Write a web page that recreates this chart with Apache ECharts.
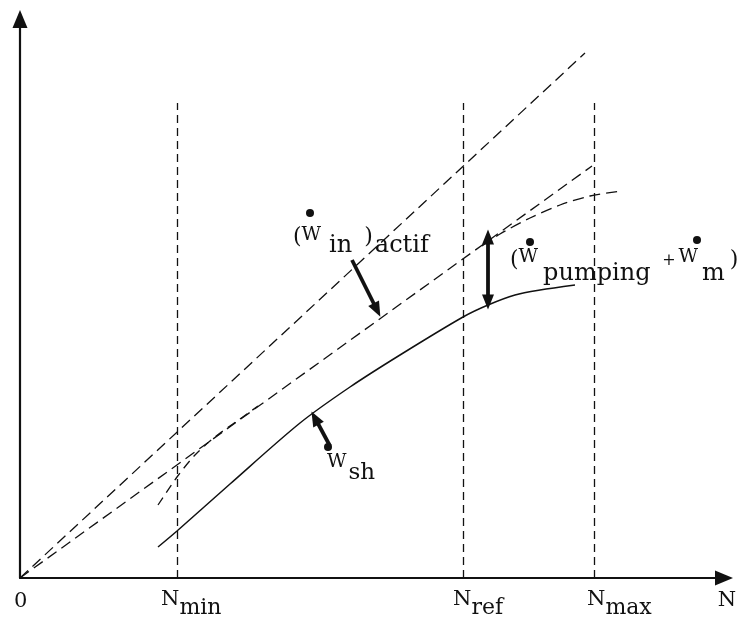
<!DOCTYPE html>
<html><head><meta charset="utf-8">
<script src="https://cdn.jsdelivr.net/npm/echarts@6/dist/echarts.min.js"></script>
<style>html,body{margin:0;padding:0;background:#fff}#c{width:749px;height:624px}</style>
</head><body><div id="c"></div>
<script>
// Engine speed N (arbitrary units) vs power (arbitrary units)
const speedTicks = [0, 157, 443, 574];
const speedTickNames = ['0', 'N_min', 'N_ref', 'N_max'];
const refLineTop = 475;
const idealLine = [[0, 0], [565, 525]];
const inLine = [[0, 0], [572, 412]];
const inActifLower = [[138,73],[157,101],[175,123],[195,141],[220,159],[238,172]];
const inActifUpper = [[462,332],[480,344],[510,360],[540,373],[570,382],[602,387]];
const shaftCurve = [[138,31],[157,47],[210,94],[280,155],[330,191],[380,223],[443,261],[468,273],[495,283],[520,288],[555,293]];
// annotations
const arrowInActif = [[332,318],[357,268]];
const arrowSh = [[310,132],[295,160]];
const arrowLoss = [[468,341],[468,276]];
const dotPoints = [[290,365],[510,336],[677,338],[308,131]];
const textPoints = [[273,365.5],[490,349],[307,139]];
const textLabels = [
  '{a|(}{w|W}{s1|in}{a|)}{s1b|actif}',
  '{b|(}{w|W}{s2|pumping }{p|+}{w2|W}{s2m|m}{b|)}',
  '{w|W}{s3|sh}'
];

const ink = '#111111';
const font = 'DejaVu Serif';
const chart = echarts.init(document.getElementById('c'), null, {renderer: 'canvas'});

// horizontal placement of each tick label relative to its tick (style only)
const tickLabelShift = [-6, -16, -10, -7];
const tickLabelDrop = [13, 2, 2, 2];
function tickLabel(i) {
  const t = speedTickNames[i];
  if (t.indexOf('_') < 0) return '{n|' + t + '}';
  const p = t.split('_');
  return '{n|' + p[0] + '}{s|' + p[1] + '}';
}

const richMain = {
  a: {fontFamily: font, fontSize: 22, color: ink, padding: [5,0,0,0]},
  b: {fontFamily: font, fontSize: 22, color: ink, padding: [6,0,0,0]},
  w: {fontFamily: font, fontSize: 19, color: ink},
  w2: {fontFamily: font, fontSize: 19, color: ink, padding: [0,0,0,3]},
  p: {fontFamily: font, fontSize: 16, color: ink, padding: [6,0,0,4]},
  s1: {fontFamily: font, fontSize: 24, color: ink, padding: [21,12,0,8]},
  s1b: {fontFamily: font, fontSize: 24, color: ink, padding: [21,0,0,2]},
  s2: {fontFamily: font, fontSize: 24, color: ink, padding: [33,0,0,5]},
  s2m: {fontFamily: font, fontSize: 24, color: ink, padding: [33,5,0,4]},
  s3: {fontFamily: font, fontSize: 23, color: ink, padding: [23,0,0,2]}
};

chart.setOption({
  backgroundColor: '#ffffff',
  animation: false,
  grid: {left: 20, right: 25, top: 19, bottom: 46},
  xAxis: {
    type: 'value', min: 0, max: 704,
    splitLine: {show: false}, axisTick: {show: false}, axisLabel: {show: false},
    axisLine: {lineStyle: {color: ink, width: 2.2}, symbol: ['none', 'triangle'], symbolSize: [15, 18]},
    name: 'N', nameLocation: 'end', nameGap: 3,
    nameTextStyle: {fontFamily: font, fontSize: 21, color: ink, align: 'center', verticalAlign: 'top', padding: [12,0,0,0]}
  },
  yAxis: {
    type: 'value', min: 0, max: 559,
    splitLine: {show: false}, axisTick: {show: false}, axisLabel: {show: false},
    axisLine: {lineStyle: {color: ink, width: 2.2}, symbol: ['none', 'triangle'], symbolSize: [15, 18]}
  },
  series: [
    {type: 'line', name: 'ideal', data: idealLine, showSymbol: false, silent: true,
     lineStyle: {color: ink, width: 1.3, type: [11, 6]}},
    {type: 'line', name: 'in', data: inLine, showSymbol: false, silent: true,
     lineStyle: {color: ink, width: 1.3, type: [11, 6]}},
    {type: 'line', name: 'inActifLower', data: inActifLower, showSymbol: false, silent: true, smooth: 0.3,
     lineStyle: {color: ink, width: 1.3, type: [9, 6]}},
    {type: 'line', name: 'inActifUpper', data: inActifUpper, showSymbol: false, silent: true, smooth: 0.3,
     lineStyle: {color: ink, width: 1.3, type: [11, 6]}},
    {type: 'line', name: 'shaft', data: shaftCurve, showSymbol: false, silent: true, smooth: 0.3,
     lineStyle: {color: ink, width: 1.5}},
    {type: 'line', name: 'refs', data: [], silent: true,
     markLine: {silent: true, symbol: ['none', 'none'], label: {show: false},
       lineStyle: {color: ink, width: 1.3, type: [8, 5]},
       data: speedTicks.slice(1).map(v => [{coord: [v, 0]}, {coord: [v, refLineTop]}])}},
    {type: 'line', name: 'arrows', data: [], silent: true,
     markLine: {silent: true, label: {show: false}, symbolSize: [12, 15],
       lineStyle: {color: ink, width: 3.8, type: 'solid'},
       data: [
         [{coord: arrowInActif[0], symbol: 'none'}, {coord: arrowInActif[1], symbol: 'triangle'}],
         [{coord: arrowSh[0], symbol: 'none'}, {coord: arrowSh[1], symbol: 'triangle'}],
         [{coord: arrowLoss[0], symbol: 'triangle'}, {coord: arrowLoss[1], symbol: 'triangle'}]
       ]}},
    {type: 'scatter', name: 'dots', data: dotPoints, symbol: 'circle', symbolSize: 8, silent: true,
     itemStyle: {color: ink, opacity: 1}},
    {type: 'scatter', name: 'texts', symbolSize: 0, silent: true, itemStyle: {opacity: 1},
     data: textPoints.map((p, i) => ({value: p, label: {formatter: textLabels[i]}})),
     label: {show: true, position: [0, 0], rich: richMain}},
    {type: 'scatter', name: 'tickLabels', symbolSize: 0, silent: true, clip: false, itemStyle: {opacity: 1},
     data: speedTicks.map((v, i) => ({value: [v, 0], label: {formatter: tickLabel(i), position: [tickLabelShift[i], tickLabelDrop[i]]}})),
     label: {show: true, rich: {
       n: {fontFamily: font, fontSize: 21, color: ink},
       s: {fontFamily: font, fontSize: 22, color: ink, padding: [17,0,0,0]}
     }}}
  ]
});
</script></body></html>
